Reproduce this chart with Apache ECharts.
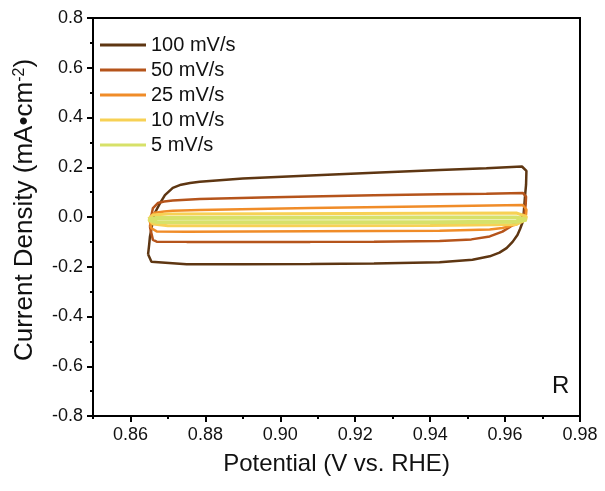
<!DOCTYPE html>
<html>
<head>
<meta charset="utf-8">
<script src="https://cdn.jsdelivr.net/npm/echarts@6/dist/echarts.min.js"></script>
<style>
html,body{margin:0;padding:0;background:#fff;}
#box01{width:605px;height:491px;}
</style>
</head>
<body>
<div id="box01"></div>
<script>
// 扫速
var seriesNames = ['100 mV/s', '50 mV/s', '25 mV/s', '10 mV/s', '5 mV/s'];
var seriesColors = ['#5e3612', '#b5541b', '#f08c28', '#f7d155', '#d7e169'];

// [电位 V, 电流密度 mA/cm2]
var cv100 = [[0.8647,-0.15],[0.8650,-0.11],[0.8652,-0.079],[0.8658,-0.03],[0.8665,0.016],[0.8679,0.056],
    [0.8692,0.088],[0.8713,0.117],[0.8735,0.13],[0.8759,0.137],[0.8785,0.142],[0.89,0.155],[0.908,0.167],
    [0.925,0.178],[0.9425,0.189],[0.955,0.196],[0.9645,0.203],[0.9657,0.185],[0.9656,0.13],[0.9653,0.08],
    [0.965,0.02],[0.9647,-0.02],[0.964,-0.048],[0.9633,-0.072],[0.962,-0.10],[0.9604,-0.125],[0.9585,-0.143],
    [0.9559,-0.158],[0.9513,-0.172],[0.9425,-0.182],[0.925,-0.187],[0.908,-0.189],[0.89,-0.19],[0.875,-0.19],
    [0.8656,-0.18],[0.8647,-0.15]];
var cv50 = [[0.8652,-0.04],[0.8655,0.0],[0.8660,0.036],[0.8673,0.056],[0.869,0.062],[0.8713,0.066],[0.8785,0.072],
    [0.895,0.078],[0.908,0.082],[0.925,0.087],[0.9425,0.091],[0.955,0.093],[0.9648,0.096],[0.9656,0.082],
    [0.9655,0.05],[0.9652,0.016],[0.9643,-0.005],[0.963,-0.019],[0.9613,-0.04],[0.9593,-0.059],[0.9559,-0.078],
    [0.951,-0.09],[0.9425,-0.096],[0.925,-0.099],[0.908,-0.1],[0.89,-0.1],[0.875,-0.1],[0.867,-0.099],
    [0.866,-0.092],[0.8652,-0.04]];
var cv25 = [[0.8652,0.0],[0.8665,0.017],[0.869,0.022],[0.8713,0.025],[0.8785,0.028],[0.908,0.036],[0.9425,0.043],
    [0.9647,0.048],[0.9657,0.03],[0.9656,0.01],[0.9652,-0.005],[0.963,-0.03],[0.9593,-0.044],[0.9559,-0.05],
    [0.9425,-0.055],[0.908,-0.057],[0.875,-0.059],[0.867,-0.058],[0.8656,-0.045],[0.8652,-0.02],[0.8652,0.0]];
var cv10 = [[0.8648,-0.008],[0.866,0.008],[0.870,0.012],[0.90,0.013],[0.94,0.015],[0.963,0.016],[0.9657,0.002],
    [0.9655,-0.012],[0.963,-0.03],[0.94,-0.034],[0.90,-0.035],[0.87,-0.035],[0.866,-0.028],[0.8648,-0.008]];
var cv5 = [[0.8648,-0.01],[0.867,-0.004],[0.90,-0.003],[0.94,-0.002],[0.963,-0.002],[0.9657,-0.01],
    [0.963,-0.019],[0.94,-0.021],[0.90,-0.021],[0.867,-0.02],[0.8648,-0.01]];
var seriesData = [cv100, cv50, cv25, cv10, cv5];
var lineWidths = [2.5, 2.5, 2.5, 3, 4];

var xMajorTicks = [0.86, 0.88, 0.90, 0.92, 0.94, 0.96, 0.98];

var font = 'Arial, "Liberation Sans", sans-serif';
var myChart = echarts.init(document.getElementById('box01'));

var series = [];
for (var i = 0; i < seriesNames.length; i++) {
    series.push({
        name: seriesNames[i],
        type: 'line',
        xAxisIndex: 0,
        yAxisIndex: 0,
        data: seriesData[i],
        symbol: 'none',
        smooth: false,
        color: seriesColors[i],
        lineStyle: {width: lineWidths[i], color: seriesColors[i]},
        silent: true
    });
}

var option = {
    backgroundColor: '#fff',
    animation: false,
    grid: {left: 93, right: 25, top: 18, bottom: 75, show: true, borderColor: '#000', borderWidth: 2},
    legend: {
        left: 100, top: 35, orient: 'vertical', padding: 0,
        icon: 'rect', itemWidth: 46, itemHeight: 3, itemGap: 5,
        textStyle: {fontFamily: font, fontSize: 20, color: '#111', lineHeight: 20},
        data: seriesNames
    },
    xAxis: [
        {
            type: 'value', min: 0.85, max: 0.98,
            name: 'Potential (V vs. RHE)', nameLocation: 'middle', nameGap: 36,
            nameTextStyle: {fontFamily: font, fontSize: 24, color: '#111'},
            axisLine: {onZero: false, lineStyle: {color: '#000', width: 2}},
            axisTick: {customValues: xMajorTicks, length: 6, lineStyle: {color: '#000', width: 2}},
            axisLabel: {customValues: xMajorTicks, margin: 10, fontFamily: font, fontSize: 18, color: '#111',
                formatter: function (v) { return v.toFixed(2); }},
            splitLine: {show: false}
        },
        {
            type: 'value', min: 0.85, max: 0.98, interval: 0.01, position: 'bottom',
            axisLine: {show: false, onZero: false},
            axisTick: {length: 3, lineStyle: {color: '#000', width: 2}},
            axisLabel: {show: false},
            splitLine: {show: false}
        }
    ],
    yAxis: [
        {
            type: 'value', min: -0.8, max: 0.8, interval: 0.2,
            name: 'Current Density (mA•cm{sup|-2})', nameLocation: 'middle', nameGap: 55,
            nameTextStyle: {fontFamily: font, fontSize: 26, color: '#111', padding: [0, 0, 0, 14],
                rich: {sup: {fontFamily: font, fontSize: 16, color: '#111', verticalAlign: 'top', padding: [0, 0, 10, 0]}}},
            axisLine: {onZero: false, lineStyle: {color: '#000', width: 2}},
            axisTick: {length: 6, lineStyle: {color: '#000', width: 2}},
            minorTick: {show: true, splitNumber: 2, length: 3, lineStyle: {color: '#000', width: 2}},
            axisLabel: {margin: 10, fontFamily: font, fontSize: 18, color: '#111',
                formatter: function (v) { return v.toFixed(1); }},
            splitLine: {show: false},
            minorSplitLine: {show: false}
        }
    ],
    graphic: [
        {type: 'text', x: 552, y: 386, style: {text: 'R', fontFamily: font, fontSize: 24, fill: '#111',
            verticalAlign: 'middle'}}
    ],
    series: series
};
myChart.setOption(option);
</script>
</body>
</html>
